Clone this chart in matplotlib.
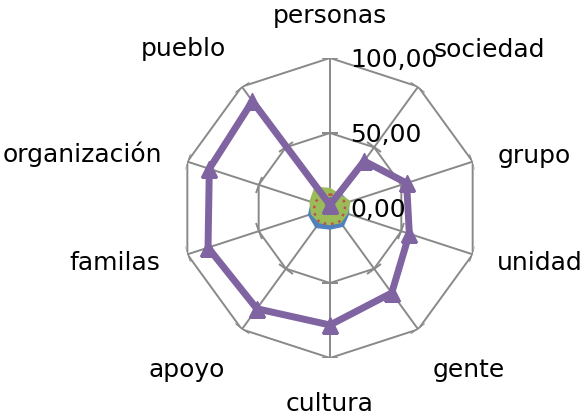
import numpy as np
import matplotlib
matplotlib.use("Agg")
import matplotlib.pyplot as plt
from matplotlib.markers import MarkerStyle
from matplotlib.transforms import Affine2D

categories = ["personas", "sociedad", "grupo", "unidad", "gente",
              "cultura", "apoyo", "familas", "organización", "pueblo"]
serie_azul = [11, 12, 13, 13, 15, 14, 16, 15, 13, 12]
serie_roja = [9, 10, 11, 10, 11, 11, 12, 11, 11, 10]
serie_verde = [13, 11, 14, 12, 12, 11, 12, 13, 14, 17]
serie_morada = [2, 38.7, 53.7, 55.6, 70, 78, 83, 85.5, 84.6, 88]
ring_values = [0, 50, 100]
ring_labels = ["0,00", "50,00", "100,00"]

W, H = 583, 416
fig = plt.figure(figsize=(W / 100, H / 100), dpi=100)
# centre of the radar at (330, 208) px, radius 150 px
ax = fig.add_axes([(330 - 150) / W, (H - 208 - 150) / H, 300 / W, 300 / H],
                  projection="polar")
ax.set_theta_zero_location("N")
ax.set_theta_direction(-1)
ax.set_ylim(0, 100)
ax.grid(False)
ax.set_xticks([])
ax.set_yticks([])
ax.spines["polar"].set_visible(False)
ax.patch.set_alpha(0)

n = len(categories)
theta = np.arange(n) * 2 * np.pi / n
closed = np.append(theta, theta[0])
gcol = "#898989"

# polygon rings and spokes
for r in ring_values[1:]:
    ax.plot(closed, [r] * (n + 1), color=gcol, lw=1.4, zorder=1)
for t in theta:
    ax.plot([t, t], [0, 100], color=gcol, lw=1.4, zorder=1)
    m = MarkerStyle("_", transform=Affine2D().rotate_deg(-np.degrees(t)))
    ax.plot([t] * 2, ring_values[1:], ls="none", marker=m, ms=12,
            mew=1.4, color=gcol, zorder=1)

def close(v):
    return np.append(v, v[0])

ax.fill(closed, close(serie_azul), color="#4F81BD", zorder=3)
ax.fill(closed, close(serie_verde), color="#9BBB59", zorder=5)
ax.plot(closed, close(serie_roja), color="#C0504D", lw=1.8, ls=(0, (1, 2)),
        zorder=5.5)
ax.plot(closed, close(serie_morada), color="#8064A2", lw=5, marker="^",
        ms=12, zorder=6)

# value axis labels
for r, lab in zip(ring_values, ring_labels):
    ax.annotate(lab, xy=(0, r), xytext=(20, -9), textcoords="offset pixels",
                ha="left", va="baseline", fontsize=18, annotation_clip=False)

# category labels (pixel positions of baseline centre)
label_pos = [(330, 23), (489, 57), (534, 163), (540, 270), (469, 377),
             (330, 411), (187, 377), (115, 270), (82, 162), (183, 56)]
for lab, (px, py) in zip(categories, label_pos):
    fig.text(px / W, 1 - py / H, lab, ha="center", va="baseline", fontsize=18)

fig.savefig("out.png", dpi=100)
